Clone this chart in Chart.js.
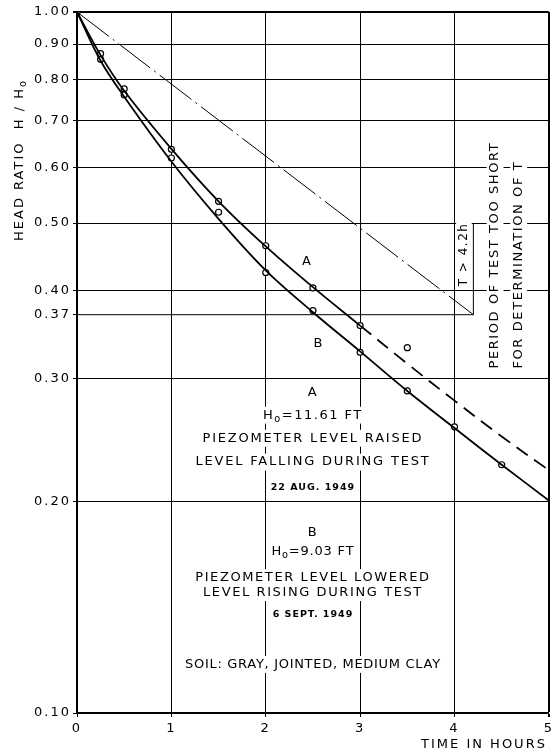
<!DOCTYPE html>
<html>
<head>
<meta charset="utf-8">
<script src="https://cdn.jsdelivr.net/npm/chart.js@4.4.1/dist/chart.umd.min.js"></script>
<style>
  html, body { margin: 0; padding: 0; background: #fff; }
  #wrap { width: 557px; height: 755px; }
</style>
</head>
<body>
<div id="wrap"><canvas id="grafico" width="557" height="755"></canvas></div>
<script>
// Valores (H/Ho contra tiempo en horas)
const horasA = [0, 0.25, 0.5, 1, 1.5, 2, 2.5, 3];
const curvaA = [1.0, 0.868, 0.772, 0.638, 0.537, 0.463, 0.405, 0.357];
const horasAExtra = [3, 3.5, 4, 4.5, 5];
const curvaAExtra = [0.357, 0.315, 0.279, 0.248, 0.222];
const horasB = [0, 0.25, 0.5, 1, 1.5, 2, 2.5, 3, 3.5, 4, 4.5, 5];
const curvaB = [1.0, 0.852, 0.757, 0.612, 0.507, 0.428, 0.373, 0.328, 0.288, 0.255, 0.226, 0.201];
const horasPuntosA = [0.25, 0.5, 1, 1.5, 2, 2.5, 3, 3.5];
const puntosA = [0.872, 0.777, 0.637, 0.537, 0.464, 0.404, 0.357, 0.332];
const horasPuntosB = [0, 0.25, 0.5, 1, 1.5, 2, 2.5, 3, 3.5, 4, 4.5];
const puntosB = [1.0, 0.856, 0.762, 0.619, 0.518, 0.425, 0.375, 0.327, 0.288, 0.256, 0.226];
const horasLineaT = [0, 4.2];
const lineaT = [1.0, 0.37];
const horasCorchete = [0, 4.2, 4.2];
const corchete = [0.37, 0.37, 0.5];
const ticksY = [0.10, 0.20, 0.30, 0.37, 0.40, 0.50, 0.60, 0.70, 0.80, 0.90, 1.00];
const ticksX = [0, 1, 2, 3, 4, 5];

function pares(xs, ys) {
  return xs.map((x, i) => ({ x: x, y: ys[i] }));
}

const FUENTE = '"DejaVu Sans", sans-serif';

// dibuja texto con partes en subíndice, centrado en (x, y)
function textoRico(ctx, partes, x, y, size, opts) {
  opts = opts || {};
  ctx.save();
  ctx.letterSpacing = (opts.esp || 1.5) + "px";
  ctx.textBaseline = "middle";
  ctx.textAlign = "left";
  let ancho = 0;
  partes.forEach((p) => {
    ctx.font = (opts.peso || "") + " " + (p.sub ? size * 0.75 : size) + "px " + FUENTE;
    p.w = ctx.measureText(p.t).width;
    ancho += p.w;
  });
  let x0 = opts.align === "left" ? x : x - ancho / 2;
  if (opts.fondo) {
    ctx.fillStyle = "#fff";
    ctx.fillRect(x0 - 3, y - size * 0.65, ancho + 6, size * 1.3);
  }
  ctx.fillStyle = "#000";
  partes.forEach((p) => {
    ctx.font = (opts.peso || "") + " " + (p.sub ? size * 0.75 : size) + "px " + FUENTE;
    ctx.fillText(p.t, x0, p.sub ? y + size * 0.3 : y);
    x0 += p.w;
  });
  ctx.restore();
}

function t(s) { return [{ t: s }]; }

const notas = [
  { x: 2.44, y: 0.441, partes: t("A"), size: 13 },
  { x: 2.56, y: 0.337, partes: t("B"), size: 13 },
  { x: 2.5, y: 0.286, partes: t("A"), size: 13, fondo: true },
  { x: 2.5, y: 0.266, partes: [{ t: "H" }, { t: "o", sub: true }, { t: "=11.61 FT" }], size: 13, esp: 1.5, fondo: true },
  { x: 2.5, y: 0.2466, partes: t("PIEZOMETER LEVEL RAISED"), size: 13, esp: 1.8, fondo: true },
  { x: 2.5, y: 0.228, partes: t("LEVEL FALLING DURING TEST"), size: 13, esp: 1.8, fondo: true },
  { x: 2.5, y: 0.210, partes: t("22 AUG. 1949"), size: 9.5, peso: "bold", esp: 1, fondo: true },
  { x: 2.5, y: 0.181, partes: t("B"), size: 13, fondo: true },
  { x: 2.5, y: 0.170, partes: [{ t: "H" }, { t: "o", sub: true }, { t: "=9.03 FT" }], size: 13, esp: 0.8, fondo: true },
  { x: 2.5, y: 0.156, partes: t("PIEZOMETER LEVEL LOWERED"), size: 13, esp: 1.6, fondo: true },
  { x: 2.5, y: 0.1485, partes: t("LEVEL RISING DURING TEST"), size: 13, esp: 1.6, fondo: true },
  { x: 2.5, y: 0.138, partes: t("6 SEPT. 1949"), size: 9.5, peso: "bold", esp: 1, fondo: true },
  { x: 2.5, y: 0.1173, partes: t("SOIL: GRAY, JOINTED, MEDIUM CLAY"), size: 13, esp: 0.7, fondo: true },
];

const textosPlugin = {
  id: "textos",
  beforeDraw(chart) {
    // espaciado de letras para las etiquetas de los ejes
    chart.ctx.letterSpacing = "2px";
  },
  beforeDatasetsDraw(chart) {
    const ctx = chart.ctx;
    const sx = chart.scales.x;
    const sy = chart.scales.y;

    notas.forEach((n) => {
      textoRico(ctx, n.partes, sx.getPixelForValue(n.x), sy.getPixelForValue(n.y), n.size, n);
    });

    // textos verticales
    function vertical(partes, x, y, size, align, fondo, esp) {
      ctx.save();
      ctx.translate(x, y);
      ctx.rotate(-Math.PI / 2);
      textoRico(ctx, partes, 0, 0, size, { align: align, fondo: fondo, esp: esp });
      ctx.restore();
    }
    vertical([{ t: "T > 4.2h" }], sx.getPixelForValue(4.1), sy.getPixelForValue(0.451), 12, "center", true, 1.5);
    vertical(t("PERIOD OF TEST TOO SHORT"), sx.getPixelForValue(4.43), sy.getPixelForValue(0.31), 13, "left", true, 1.6);
    vertical(t("FOR DETERMINATION OF T"), sx.getPixelForValue(4.68), sy.getPixelForValue(0.31), 13, "left", true, 1.6);
  },
  afterDraw(chart) {
    const ctx = chart.ctx;
    // título eje Y
    ctx.save();
    ctx.translate(20, 160);
    ctx.rotate(-Math.PI / 2);
    textoRico(ctx, [{ t: "HEAD RATIO  H / H" }, { t: "o", sub: true }], 0, 0, 13, { esp: 2 });
    ctx.restore();
    // título eje X
    textoRico(ctx, t("TIME IN HOURS"), 484, 745, 13, { esp: 2 });
  },
};

const ctx = document.getElementById("grafico").getContext("2d");

const estiloCurva = {
  borderColor: "#000",
  borderWidth: 1.8,
  pointRadius: 0,
  tension: 0.35,
  fill: false,
};
const estiloPuntos = {
  showLine: false,
  pointRadius: 3,
  pointBorderWidth: 1.2,
  pointBorderColor: "#000",
  pointBackgroundColor: "#fff",
};

new Chart(ctx, {
  type: "scatter",
  data: {
    datasets: [
      Object.assign({ data: pares(horasA, curvaA), showLine: true }, estiloCurva),
      Object.assign({ data: pares(horasAExtra, curvaAExtra), showLine: true, borderDash: [14, 8] }, estiloCurva),
      Object.assign({ data: pares(horasB, curvaB), showLine: true }, estiloCurva),
      {
        data: pares(horasLineaT, lineaT),
        showLine: true,
        borderColor: "#000",
        borderWidth: 1,
        borderDash: [40, 5, 2, 5],
        pointRadius: 0,
      },
      {
        data: pares(horasCorchete, corchete),
        showLine: true,
        borderColor: "#000",
        borderWidth: 1,
        pointRadius: 0,
      },
      Object.assign({ data: pares(horasPuntosA, puntosA) }, estiloPuntos),
      Object.assign({ data: pares(horasPuntosB, puntosB) }, estiloPuntos),
    ],
  },
  options: {
    responsive: false,
    animation: false,
    layout: { padding: { top: 12, right: 6, left: 0, bottom: 0 } },
    plugins: { legend: { display: false }, tooltip: { enabled: false } },
    scales: {
      x: {
        type: "linear",
        min: 0,
        max: 5,
        afterBuildTicks: (s) => { s.ticks = ticksX.map((v) => ({ value: v })); },
        afterFit: (s) => { s.height = 42; },
        ticks: {
          color: "#000",
          font: { family: FUENTE, size: 13 },
          padding: 4,
          callback: (v) => String(v),
        },
        grid: {
          color: "#000",
          lineWidth: (c) => (c.tick && c.tick.value === 5 ? 2 : 1),
          tickLength: 4,
        },
        border: { display: true, color: "#000", width: 2 },
      },
      y: {
        type: "logarithmic",
        min: 0.1,
        max: 1.0,
        afterBuildTicks: (s) => { s.ticks = ticksY.map((v) => ({ value: v })); },
        afterFit: (s) => { s.width = 77; },
        ticks: {
          color: "#000",
          font: { family: FUENTE, size: 13 },
          padding: 2,
          autoSkip: false,
          callback: (v) => Number(v).toFixed(2),
        },
        grid: {
          color: (c) => (c.tick && Math.abs(c.tick.value - 0.37) < 1e-6 ? "rgba(0,0,0,0)" : "#000"),
          lineWidth: (c) => (c.tick && c.tick.value === 1 ? 2 : 1),
          tickLength: 4,
          tickColor: "#000",
        },
        border: { display: true, color: "#000", width: 2 },
      },
    },
  },
  plugins: [textosPlugin],
});
</script>
</body>
</html>
